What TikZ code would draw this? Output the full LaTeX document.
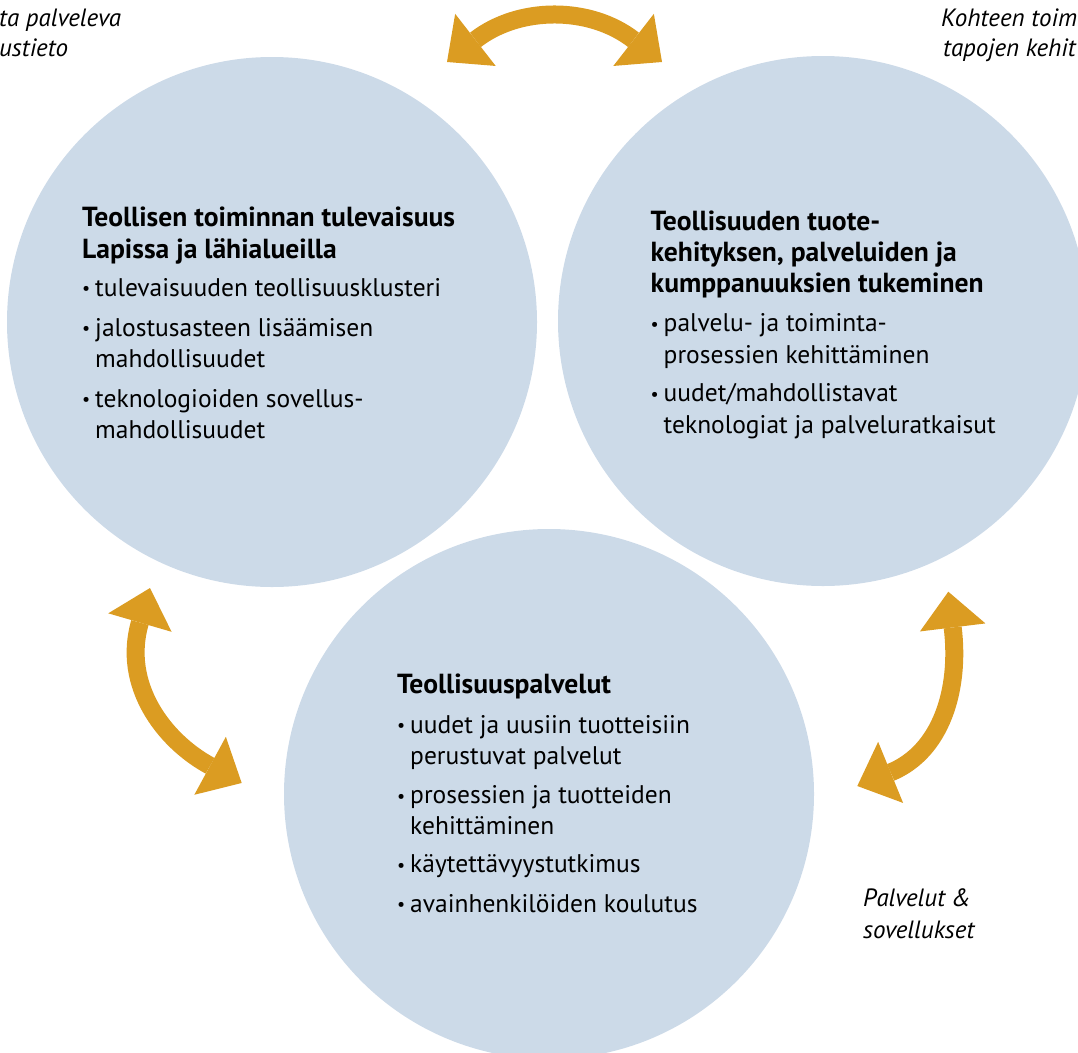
\documentclass[tikz,border=0pt]{standalone}
\usepackage{fontspec}
\setmainfont{PT Sans}
\usetikzlibrary{arrows.meta}
\definecolor{circleblue}{HTML}{CCDAE8}
\definecolor{arrowgold}{HTML}{DB9C22}
\newcommand{\bul}{\makebox[13pt][l]{\raisebox{1.5pt}{\fontsize{18}{18}\selectfont\textbullet}}}
\tikzset{
  areacircle/.style={circle, fill=circleblue, minimum size=530pt, inner sep=0pt},
  headline/.style={anchor=base west, inner sep=0pt, font=\bfseries\fontsize{27.6}{31}\selectfont},
  itemline/.style={anchor=base west, inner sep=0pt, font=\fontsize{25.5}{31}\selectfont},
  sidenote/.style={anchor=base west, inner sep=0pt, font=\itshape\fontsize{25}{31}\selectfont},
  swaparrow/.style={draw=arrowgold, line width=18pt,
    arrows={Triangle[width=66pt,length=36pt,line width=0pt]-Triangle[width=66pt,length=36pt,line width=0pt]}}
}

\begin{document}
\begin{tikzpicture}[x=1pt,y=-1pt]
          \useasboundingbox (0,0) rectangle (1078,1052);

          \node[areacircle] (cl) at (272,322) {};
          \node[areacircle] (cr) at (823,321) {};
          \node[areacircle] (cb) at (549,794) {};

          \node[headline] (l1) at (82,226.5) {Teollisen toiminnan tulevaisuus};
          \node[headline] (l2) at (82,258) {Lapissa ja lähialueilla};
          \node[itemline] (l3) at (82,296) {\bul tulevaisuuden teollisuusklusteri};
          \node[itemline] (l4) at (82,336) {\bul jalostusasteen lisäämisen};
          \node[itemline] (l5) at (95,367) {mahdollisuudet};
          \node[itemline] (l6) at (82,407) {\bul teknologioiden sovellus-};
          \node[itemline] (l7) at (95,438) {mahdollisuudet};

          \node[headline] (r1) at (650.5,230) {Teollisuuden tuote-};
          \node[headline] (r2) at (650.5,261) {kehityksen, palveluiden ja};
          \node[headline] (r3) at (650.5,292.5) {kumppanuuksien tukeminen};
          \node[itemline] (r4) at (650.5,331.5) {\bul palvelu- ja toiminta-};
          \node[itemline] (r5) at (663.5,363) {prosessien kehittäminen};
          \node[itemline] (r6) at (650.5,401.5) {\bul uudet/mahdollistavat};
          \node[itemline] (r7) at (663.5,433) {teknologiat ja palveluratkaisut};

          \node[headline] (b1) at (397,693.5) {Teollisuuspalvelut};
          \node[itemline] (b2) at (397,733) {\bul uudet ja uusiin tuotteisiin};
          \node[itemline] (b3) at (410,764) {perustuvat palvelut};
          \node[itemline] (b4) at (397,803.5) {\bul prosessien ja tuotteiden};
          \node[itemline] (b5) at (410,834) {kehittäminen};
          \node[itemline] (b6) at (397,872.5) {\bul käytettävyystutkimus};
          \node[itemline] (b7) at (397,912) {\bul avainhenkilöiden koulutus};

          \node[sidenote] (s1) at (-1,26) {ta palveleva};
          \node[sidenote] (s2) at (-1,56) {ustieto};
          \node[sidenote] (s3) at (941,26.5) {Kohteen toim};
          \node[sidenote] (s4) at (943,56) {tapojen kehit};
          \node[sidenote] (s5) at (863,906.5) {Palvelut \&};
          \node[sidenote] (s6) at (863,938) {sovellukset};

          \coordinate (tl) at (447,62);
          \coordinate (tr) at (662,62);
          \coordinate (la) at (150,588);
          \coordinate (lb) at (241.7,783);
          \coordinate (ra) at (948.3,591.7);
          \coordinate (rb) at (857.3,786);

          \draw[swaparrow] (tl) .. controls +(72,-56) and +(-72,-56) .. (tr);
          \draw[swaparrow] (la) .. controls +(-28,96) and +(-79,-43) .. (lb);
          \draw[swaparrow] (ra) .. controls +(12,98) and +(83.7,-34.2) .. (rb);
        \end{tikzpicture}
\end{document}
